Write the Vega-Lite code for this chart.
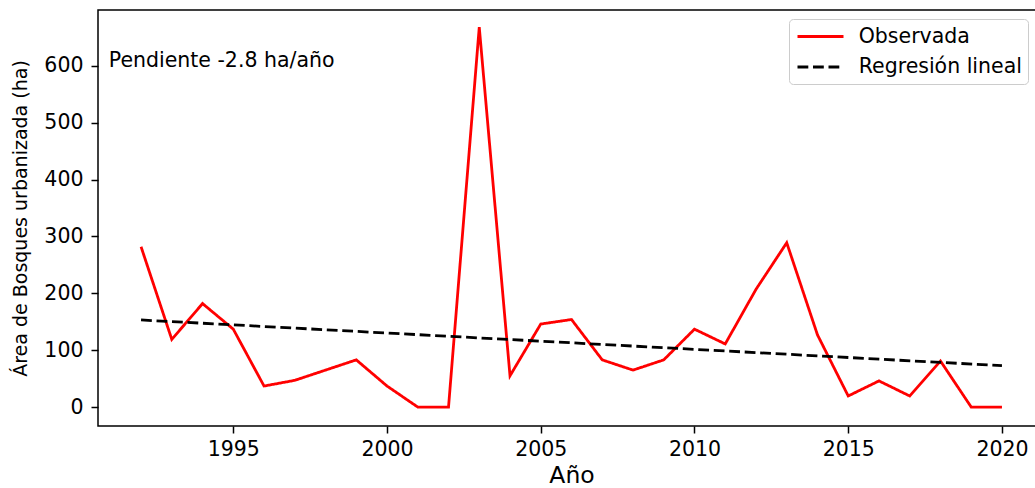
{
  "$schema": "https://vega.github.io/schema/vega-lite/v6.json",
  "autosize": {"type": "none"},
  "width": 947,
  "height": 416,
  "padding": {"left": 98, "top": 10, "right": 0, "bottom": 62},
  "background": "white",
  "config": {
    "font": "DejaVu Sans",
    "view": {"stroke": "#000000", "strokeWidth": 1.5},
    "axis": {
      "domain": false,
      "grid": false,
      "tickColor": "#000000",
      "tickWidth": 1.5,
      "tickSize": 7,
      "labelColor": "#000000",
      "labelFontSize": 20.5,
      "labelFont": "DejaVu Sans",
      "titleColor": "#000000",
      "titleFont": "DejaVu Sans",
      "titleFontWeight": "normal"
    },
    "legend": {
      "labelFont": "DejaVu Sans",
      "labelColor": "#000000"
    }
  },
  "layer": [
    {
      "data": {
        "values": [
          {"anio": 1992, "valor": 282, "serie": "Observada"},
          {"anio": 1993, "valor": 119, "serie": "Observada"},
          {"anio": 1994, "valor": 182, "serie": "Observada"},
          {"anio": 1995, "valor": 137, "serie": "Observada"},
          {"anio": 1996, "valor": 37, "serie": "Observada"},
          {"anio": 1997, "valor": 47, "serie": "Observada"},
          {"anio": 1998, "valor": 65, "serie": "Observada"},
          {"anio": 1999, "valor": 83, "serie": "Observada"},
          {"anio": 2000, "valor": 37, "serie": "Observada"},
          {"anio": 2001, "valor": 0, "serie": "Observada"},
          {"anio": 2002, "valor": 0, "serie": "Observada"},
          {"anio": 2003, "valor": 668, "serie": "Observada"},
          {"anio": 2004, "valor": 55, "serie": "Observada"},
          {"anio": 2005, "valor": 146, "serie": "Observada"},
          {"anio": 2006, "valor": 154, "serie": "Observada"},
          {"anio": 2007, "valor": 83, "serie": "Observada"},
          {"anio": 2008, "valor": 65, "serie": "Observada"},
          {"anio": 2009, "valor": 83, "serie": "Observada"},
          {"anio": 2010, "valor": 137, "serie": "Observada"},
          {"anio": 2011, "valor": 111, "serie": "Observada"},
          {"anio": 2012, "valor": 207, "serie": "Observada"},
          {"anio": 2013, "valor": 289, "serie": "Observada"},
          {"anio": 2014, "valor": 127, "serie": "Observada"},
          {"anio": 2015, "valor": 19.5, "serie": "Observada"},
          {"anio": 2016, "valor": 46, "serie": "Observada"},
          {"anio": 2017, "valor": 19.5, "serie": "Observada"},
          {"anio": 2018, "valor": 81, "serie": "Observada"},
          {"anio": 2019, "valor": 0, "serie": "Observada"},
          {"anio": 2020, "valor": 0, "serie": "Observada"},
          {"anio": 1992, "valor": 153.2, "serie": "Regresión lineal"},
          {"anio": 2020, "valor": 72.8, "serie": "Regresión lineal"}
        ]
      },
      "mark": {"type": "line", "strokeWidth": 2.8, "clip": true},
      "encoding": {
        "x": {
          "field": "anio",
          "type": "quantitative",
          "scale": {"domain": [1990.6, 2021.4], "nice": false, "zero": false},
          "axis": {
            "values": [1995, 2000, 2005, 2010, 2015, 2020],
            "format": "d",
            "labelPadding": 6,
            "title": "Año",
            "titleFontSize": 23.5,
            "titlePadding": 4
          }
        },
        "y": {
          "field": "valor",
          "type": "quantitative",
          "scale": {"domain": [-33.3, 698.3], "nice": false, "zero": false},
          "axis": {
            "values": [0, 100, 200, 300, 400, 500, 600],
            "labelPadding": 8,
            "title": "Área de Bosques urbanizada (ha)",
            "titleFontSize": 19,
            "titlePadding": 13
          }
        },
        "color": {
          "field": "serie",
          "type": "nominal",
          "scale": {"domain": ["Observada", "Regresión lineal"], "range": ["#ff0000", "#000000"]},
          "legend": {
            "title": null,
            "orient": "none",
            "legendX": 691,
            "legendY": 9,
            "fillColor": "white",
            "strokeColor": "#cccccc",
            "cornerRadius": 4,
            "padding": 6,
            "rowPadding": 8.5,
            "labelFontSize": 20.5,
            "labelLimit": 400,
            "labelOffset": 26.7,
            "symbolOffset": 14,
            "symbolType": "M-2.3,0H2.3",
            "symbolSize": 400,
            "symbolStrokeWidth": 2.8
          }
        },
        "strokeDash": {
          "field": "serie",
          "type": "nominal",
          "scale": {"domain": ["Observada", "Regresión lineal"], "range": [[1, 0], [10.8, 4.7]]},
          "legend": {
            "title": null,
            "orient": "none",
            "legendX": 691,
            "legendY": 9,
            "fillColor": "white",
            "strokeColor": "#cccccc",
            "cornerRadius": 4,
            "padding": 6,
            "rowPadding": 8.5,
            "labelFontSize": 20.5,
            "labelLimit": 400,
            "labelOffset": 26.7,
            "symbolOffset": 14,
            "symbolType": "M-2.3,0H2.3",
            "symbolSize": 400,
            "symbolStrokeWidth": 2.8
          }
        }
      }
    },
    {
      "data": {"values": [{"anio": 1990.95, "valor": 598.6, "texto": "Pendiente -2.8 ha/año"}]},
      "mark": {"type": "text", "align": "left", "baseline": "alphabetic", "fontSize": 20.5, "color": "#000000", "font": "DejaVu Sans"},
      "encoding": {
        "x": {"field": "anio", "type": "quantitative"},
        "y": {"field": "valor", "type": "quantitative"},
        "text": {"field": "texto"}
      }
    }
  ]
}
